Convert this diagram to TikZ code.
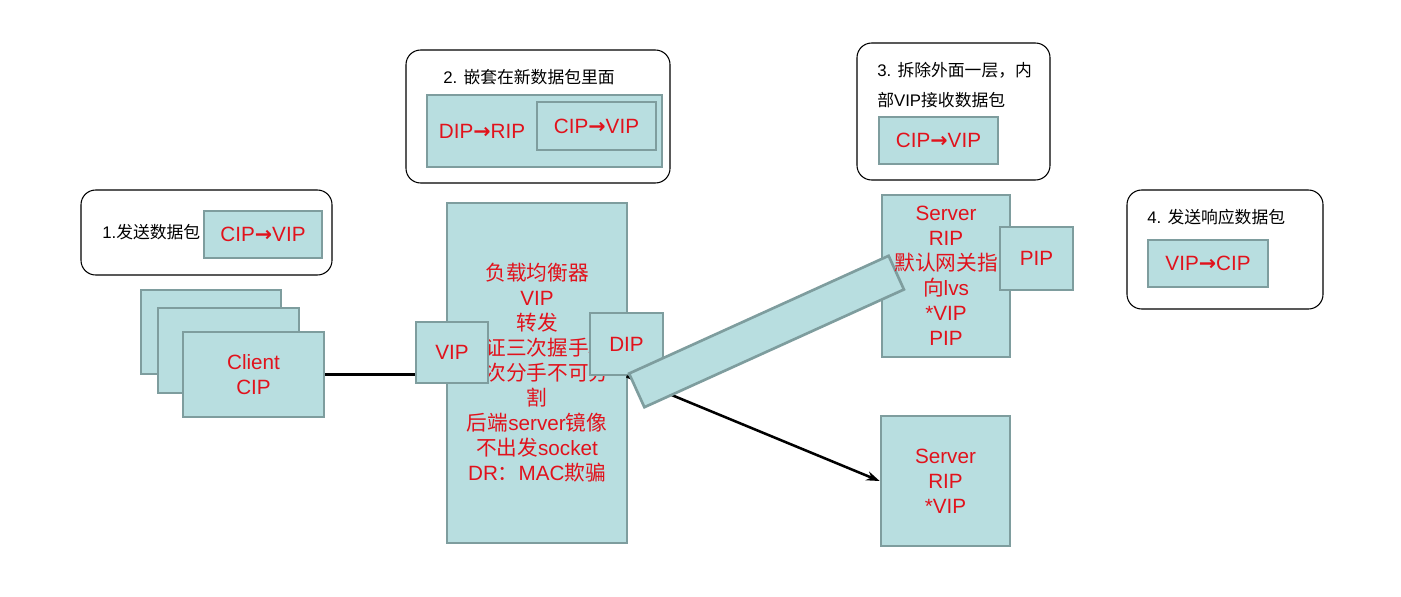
\documentclass[tikz,border=0pt]{standalone}
\usepackage{fontspec}
\setmainfont{Liberation Sans}
\newfontfamily\cjk{Noto Sans CJK SC}
\newfontfamily\arrfont{DejaVu Sans}
\usetikzlibrary{arrows.meta}
\definecolor{pktfill}{HTML}{B8DEE0}
\definecolor{pktedge}{HTML}{7E9D9E}
\definecolor{pktred}{HTML}{E1121C}
\newcommand\zhs[1]{{\cjk #1}}
\newcommand\rarr{{\arrfont\bfseries →}}

\begin{document}
\begin{tikzpicture}[x=0.75pt,y=-0.75pt,
  note/.style={draw=black,line width=0.8pt,rounded corners=11pt},
  lbl/.style={anchor=west,inner sep=0pt,font=\fontsize{12.6}{22.5}\selectfont,align=left},
  pkt/.style={draw=pktedge,fill=pktfill,line width=2pt,inner sep=0pt,text=pktred,font=\fontsize{15.5}{18.75}\selectfont,align=center},
  redtxt/.style={text=pktred,inner sep=0pt,font=\fontsize{15.5}{18.75}\selectfont,align=center},
  link/.style={line width=1.9pt,black}]
\useasboundingbox (0,0) rectangle (1401,596);

\draw[note] (81,190) rectangle (332,275);
\node[lbl] (l1) at (102,232) {1.\zhs{发送数据包}};
\node[pkt,minimum width=88.5pt,minimum height=35.25pt] (pkt1) at (263,234.5) {CIP\rarr VIP};

\draw[note] (406,50) rectangle (670,183);
\node[lbl] (l2) at (443,77) {2. \zhs{嵌套在新数据包里面}};
\node[pkt,minimum width=176.25pt,minimum height=54pt] (outer2) at (544.5,131) {};
\node[redtxt] (dr) at (482,131) {DIP\rarr RIP};
\node[pkt,minimum width=89.25pt,minimum height=36pt] (inner2) at (596.5,126) {CIP\rarr VIP};

\draw[note] (857,43) rectangle (1050,180);
\node[lbl] (l3) at (877,85) {3. \zhs{拆除外面一层，内}\\\zhs{部}VIP\zhs{接收数据包}};
\node[pkt,minimum width=89.25pt,minimum height=35.25pt] (pkt3) at (938.5,140.5) {CIP\rarr VIP};

\draw[note] (1127,190) rectangle (1323,309);
\node[lbl] (l4) at (1147,217) {4. \zhs{发送响应数据包}};
\node[pkt,minimum width=90pt,minimum height=35.25pt] (pkt4) at (1208,263.5) {VIP\rarr CIP};

\node[pkt,minimum width=105pt,minimum height=63pt] (cli3) at (211,332) {};
\node[pkt,minimum width=105.75pt,minimum height=63.75pt] (cli2) at (228.5,350.5) {};
\node[pkt,minimum width=105.75pt,minimum height=63.75pt] (cli) at (253.5,374.5) {Client\\CIP};

\node[pkt,minimum width=135pt,minimum height=255pt] (lb) at (537,373) {\zhs{负载均衡器}\\VIP\\\zhs{转发}\\\zhs{保证三次握手和}\\\zhs{四次分手不可分}\\\zhs{割}\\\zhs{后端}server\zhs{镜像}\\\zhs{不出发}socket\\DR\zhs{：}MAC\zhs{欺骗}};
\draw[link] (cli.east) -- (cli.east -| lb.west);
\node[pkt,minimum width=54pt,minimum height=45.75pt] (vip) at (452,352.5) {VIP};
\node[pkt,minimum width=54.75pt,minimum height=46.5pt] (dip) at (626.5,344) {DIP};

\node[pkt,minimum width=96.75pt,minimum height=97.5pt] (srv2) at (945.5,481) {Server\\RIP\\*VIP};
\draw[link,-{Stealth[length=10pt,width=7pt]}] (dip.south) -- (srv2.west);

\node[pkt,minimum width=96pt,minimum height=121.5pt] (srv1) at (946,276) {};
\node[pkt,rotate=24.4,minimum width=213.75pt,minimum height=27.75pt] (tun) at (766.5,331.5) {};
\node[redtxt] (srv1txt) at (srv1) {Server\\RIP\\\zhs{默认网关指}\\\zhs{向}lvs\\*VIP\\PIP};
\node[pkt,minimum width=54.75pt,minimum height=47.25pt] (pip) at (1036.5,258.5) {PIP};
\end{tikzpicture}
\end{document}
